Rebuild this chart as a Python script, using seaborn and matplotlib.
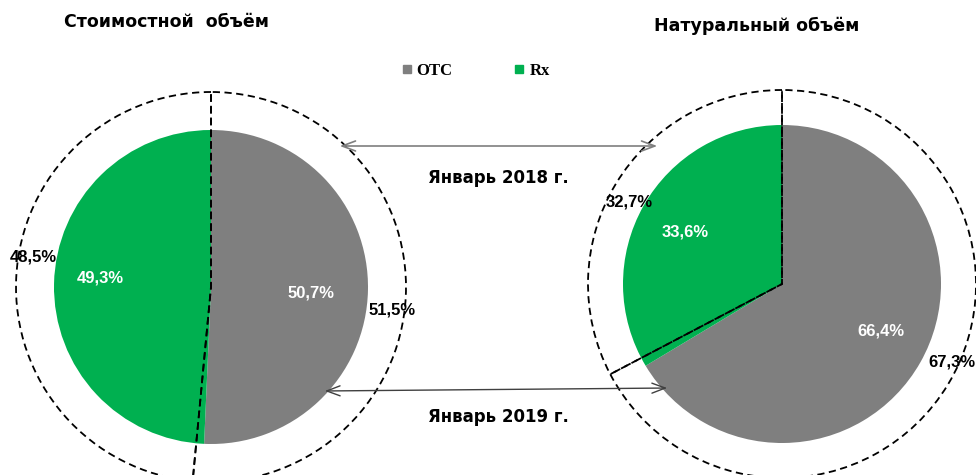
import matplotlib
matplotlib.use("Agg")
import matplotlib.pyplot as plt
from matplotlib.lines import Line2D
import seaborn as sns

# Data: shares of OTC / Rx, inner pie = January 2019, outer ring = January 2018
categories = ["OTC", "Rx"]
value_2019 = [50.7, 49.3]
value_2018 = [51.5, 48.5]
units_2019 = [66.4, 33.6]
units_2018 = [67.3, 32.7]
titles = ["Стоимостной  объём", "Натуральный объём"]
period_labels = ["Январь 2018 г.", "Январь 2019 г."]

colors = ["#7F7F7F", "#00B050"]
W, H = 976, 475

sns.set_theme(style="white")
plt.rcParams["font.family"] = ["DejaVu Sans"]
plt.rcParams["text.color"] = "black"


def fmt(p):
    return f"{p:.1f}%".replace(".", ",")


def nudge(texts, offsets):
    # small manual label shifts (pixels, y downwards) like in the original
    for t, (dx, dy) in zip(texts, offsets):
        x, y = t.get_position()
        t.set_position((x + dx, y - dy))


def draw_pair(ax, inner, outer, cx, cy, r_in, r_out, pd_in, pd_out, off_in, off_out):
    num_font = dict(family="Liberation Sans", fontsize=12, fontweight="bold")
    _, _, t_in = ax.pie(inner, center=(cx, cy), radius=r_in, colors=colors,
                        startangle=90, counterclock=False, autopct=fmt, pctdistance=pd_in,
                        wedgeprops=dict(linewidth=0), frame=True,
                        textprops=dict(color="white", **num_font))
    _, _, t_out = ax.pie(outer, center=(cx, cy), radius=r_out, colors=colors,
                         startangle=90, counterclock=False, autopct=fmt, pctdistance=pd_out,
                         wedgeprops=dict(facecolor="none", edgecolor="black", linewidth=1.3,
                                         linestyle=(0, (4, 2.5))),
                         frame=True, textprops=dict(color="black", **num_font))
    nudge(t_in, off_in)
    nudge(t_out, off_out)


fig = plt.figure(figsize=(W / 100, H / 100), dpi=100)
ax = fig.add_axes([0, 0, 1, 1])

draw_pair(ax, value_2019, value_2018, 211, H - 287, 157, 195, 0.66, 0.93,
          [(-4, 4), (-7, -7)], [(0, 14), (3, -21)])
draw_pair(ax, units_2019, units_2018, 782, H - 284, 159, 194, 0.79, 0.93,
          [(-10, -15), (12, 10)], [(16, -15), (2, 11)])

ax.set_xlim(0, W)
ax.set_ylim(0, H)
ax.set_aspect("equal")
ax.axis("off")

# titles
ax.text(166, H - 22, titles[0], ha="center", va="center", fontsize=12.5, fontweight="bold")
ax.text(757, H - 26, titles[1], ha="center", va="center", fontsize=12.5, fontweight="bold")

# period arrows
ax.annotate("", xy=(337, H - 146), xytext=(660, H - 146),
            arrowprops=dict(arrowstyle="<->,head_length=0.8,head_width=0.3",
                            color="#7F7F7F", lw=1.2))
ax.annotate("", xy=(322, H - 391), xytext=(670, H - 388),
            arrowprops=dict(arrowstyle="<->,head_length=0.8,head_width=0.3",
                            color="#404040", lw=1))
ax.text(498, H - 178, period_labels[0], ha="center", va="center", fontsize=12, fontweight="bold")
ax.text(498, H - 417, period_labels[1], ha="center", va="center", fontsize=12, fontweight="bold")

handles = [Line2D([], [], marker="s", linestyle="", color=c, markersize=6) for c in colors]
ax.legend(handles, categories, loc="center", bbox_to_anchor=(474 / W, 1 - 71 / H),
          ncol=2, frameon=False, columnspacing=3.5, handletextpad=0.1, handlelength=1,
          prop=dict(family="Liberation Serif", weight="bold", size=12))

fig.savefig("out.png", dpi=100)
